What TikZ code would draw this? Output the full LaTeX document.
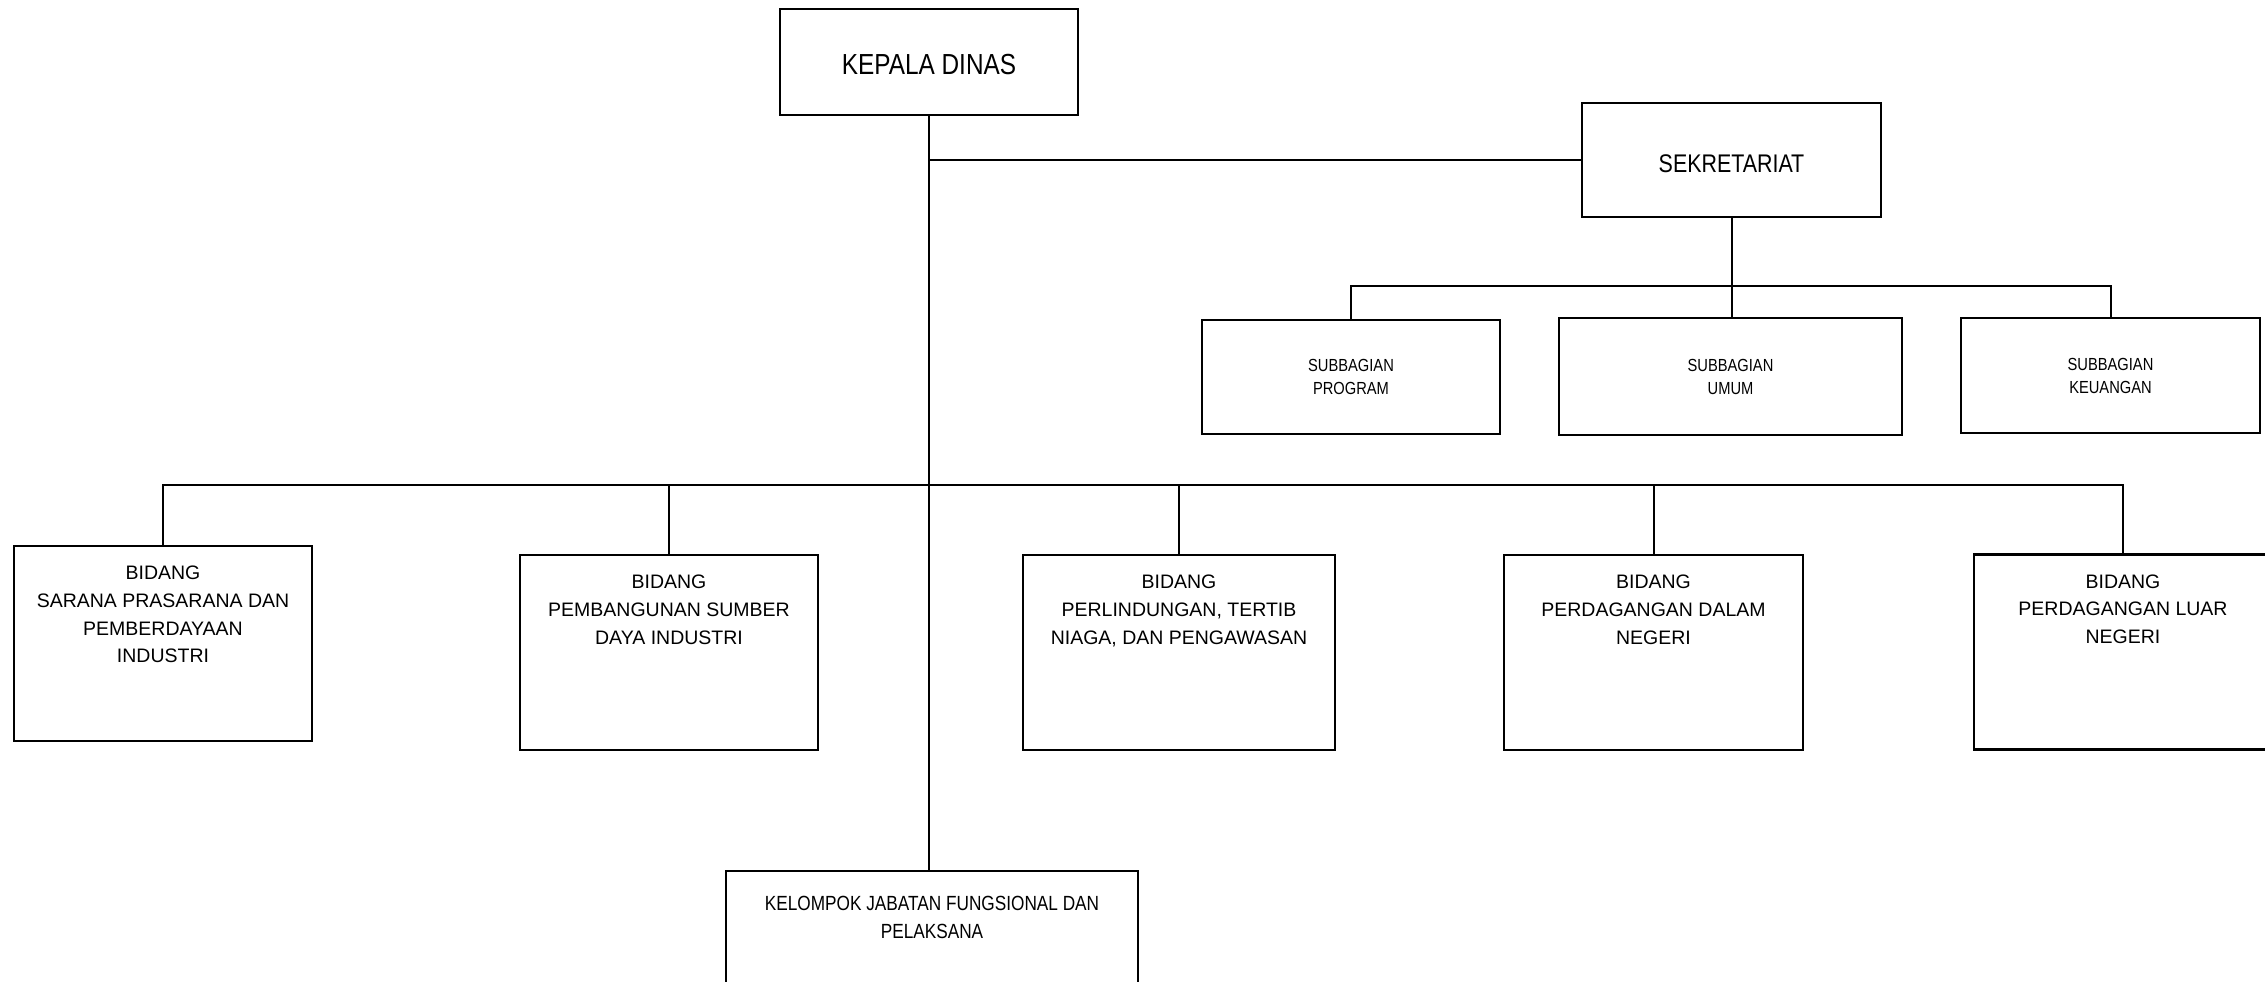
\documentclass[tikz,border=0pt]{standalone}
\usepackage{fontspec}
\setmainfont{Liberation Sans}
\newfontfamily\narrowfont{Liberation Sans}[FakeStretch=0.84]
\begin{document}
\begin{tikzpicture}[x=1pt,y=-1pt,
  box/.style={draw=black,line width=2.4pt,fill=white,inner sep=0pt,align=center},
  link/.style={draw=black,line width=2pt},
  bidang/.style={box,minimum width=298pt,minimum height=195pt},
  subbox/.style={box,minimum height=115pt,font=\narrowfont\fontsize{17.5}{23}\selectfont},
  toptext/.style={anchor=north,align=center,inner sep=0pt,yshift=-21pt,
    font=\fontsize{19.5}{27.7}\selectfont}
]
\useasboundingbox (0,0) rectangle (2265,982);
\clip (0,0) rectangle (2265,982);

% head and secretariat
\node[box,minimum width=298pt,minimum height=106pt] (kd) at (929,62) {};
\node[font=\narrowfont\fontsize{29}{34}\selectfont,inner sep=0pt,yshift=-3pt]
  at (kd.center) {KEPALA DINAS};
\node[box,minimum width=299pt,minimum height=114pt] (sek) at (1731.5,160) {};
\node[font=\narrowfont\fontsize{25.5}{30}\selectfont,inner sep=0pt,yshift=-4pt]
  at (sek.center) {SEKRETARIAT};

% sub-sections of the secretariat
\node[subbox,minimum width=298pt,minimum height=114pt] (sp) at (1351,377) {SUBBAGIAN\\PROGRAM};
\node[subbox,minimum width=343pt,minimum height=117pt] (su) at (1730.5,376.5) {SUBBAGIAN\\UMUM};
\node[subbox,minimum width=299pt] (sk) at (2110.5,375.5) {SUBBAGIAN\\KEUANGAN};

% divisions
\node[bidang] (b1) at (163,643.5) {};
\node[toptext] at (b1.north) {BIDANG\\SARANA PRASARANA DAN\\PEMBERDAYAAN\\INDUSTRI};
\node[bidang] (b2) at (669,652.5) {};
\node[toptext] at (b2.north) {BIDANG\\PEMBANGUNAN SUMBER\\DAYA INDUSTRI};
\node[bidang,minimum width=312pt] (b3) at (1179,652.5) {};
\node[toptext] at (b3.north) {BIDANG\\PERLINDUNGAN, TERTIB\\NIAGA, DAN PENGAWASAN};
\node[bidang,minimum width=299pt] (b4) at (1653.5,652.5) {};
\node[toptext] at (b4.north) {BIDANG\\PERDAGANGAN DALAM\\NEGERI};
\node[bidang] (b5) at (2123,652) {};
\node[toptext] at (b5.north) {BIDANG\\PERDAGANGAN LUAR\\NEGERI};

% functional group
\node[box,minimum width=412pt,minimum height=140pt] (kel) at (932,941) {};
\node[toptext,yshift=-5pt,font=\narrowfont\fontsize{20.5}{28.3}\selectfont]
  at (kel.north) {KELOMPOK JABATAN FUNGSIONAL DAN\\PELAKSANA};

% connectors
\coordinate (bar) at (0,485);
\coordinate (sbar) at (0,286);
\draw[link] (kd.south) -- (kd.south |- kel.north);
\draw[link] (kd.south |- sek.west) -- (sek.west);
\draw[link] (sek.south) -- (sek.south |- su.north);
\draw[link] (sp.north) -- (sp.north |- sbar) -- (sk.north |- sbar) -- (sk.north);
\draw[link] (b1.north) -- (b1.north |- bar) -- (b5.north |- bar) -- (b5.north);
\draw[link] (b2.north) -- (b2.north |- bar);
\draw[link] (b3.north) -- (b3.north |- bar);
\draw[link] (b4.north) -- (b4.north |- bar);
\end{tikzpicture}
\end{document}
